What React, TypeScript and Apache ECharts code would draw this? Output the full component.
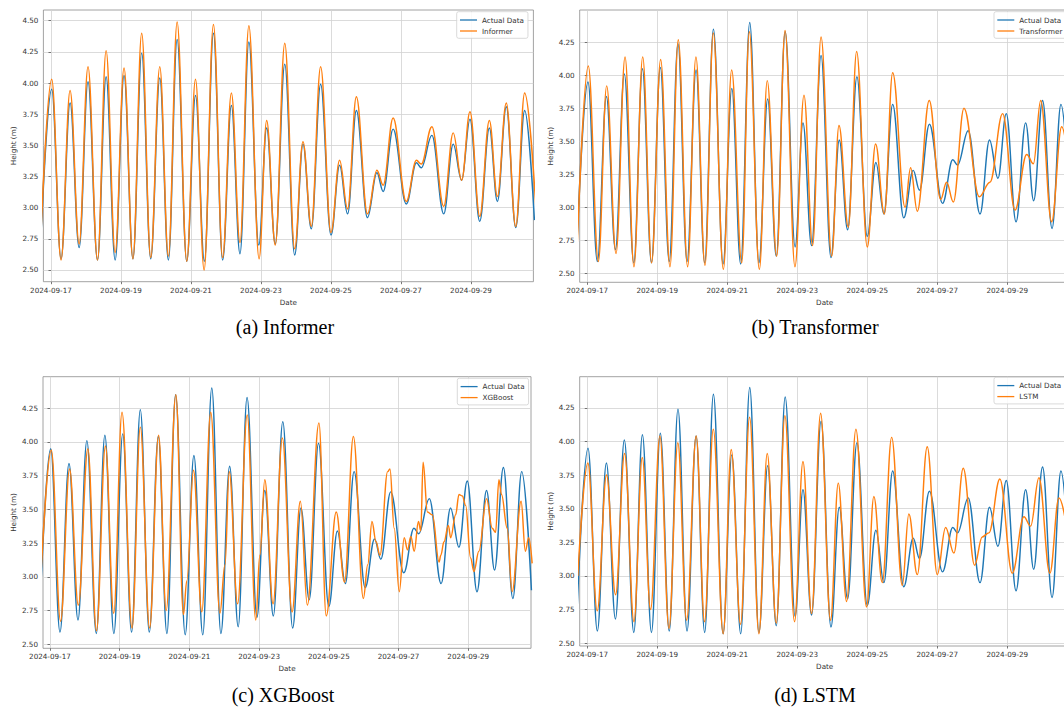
import React, { useEffect, useRef } from "react";
import * as echarts from "echarts";

// ---------- data (hours since 2024-09-17 00:00, height in m) ----------
const START_DATE = "2024-09-17";
const X_TICK_HOURS = [0, 48, 96, 144, 192, 240, 288];
const Y_TICKS_A = [2.5, 2.75, 3.0, 3.25, 3.5, 3.75, 4.0, 4.25, 4.5];
const Y_TICKS_BCD = [2.5, 2.75, 3.0, 3.25, 3.5, 3.75, 4.0, 4.25];
const MODEL_NAMES = ["Informer", "Transformer", "XGBoost", "LSTM"];
const CAPTIONS = ["(a) Informer", "(b) Transformer", "(c) XGBoost", "(d) LSTM"];

const ACTUAL: [number, number][] = [
  [-7.5, 2.62], [0.5, 3.95], [6.9, 2.59], [13.1, 3.84], [19.3, 2.68], [25.4, 4.01],
  [31.9, 2.58], [37.8, 4.05], [44.0, 2.58], [50.1, 4.06], [56.2, 2.59], [62.2, 4.24],
  [68.4, 2.59], [74.6, 4.04], [80.5, 2.58], [86.5, 4.35], [93.1, 2.57], [99.1, 3.9],
  [105.2, 2.57], [111.4, 4.4], [117.7, 2.58], [123.7, 3.82], [129.6, 2.63], [135.7, 4.33],
  [142.5, 2.7], [147.9, 3.64], [153.8, 2.71], [160.3, 4.15], [167.1, 2.62], [172.8, 3.51],
  [178.5, 2.83], [184.9, 3.99], [192.0, 2.78], [197.9, 3.34], [203.4, 2.95], [209.4, 3.78],
  [217.0, 2.92], [223.5, 3.28], [227.8, 3.13], [234.6, 3.63], [243.6, 3.03], [250.6, 3.36],
  [253.9, 3.32], [261.2, 3.58], [269.3, 2.95], [275.8, 3.51], [281.6, 3.22], [287.3, 3.71],
  [294.0, 2.89], [300.6, 3.64], [306.1, 3.05], [312.2, 3.81], [318.7, 2.84], [324.8, 3.78],
  [331.5, 2.9],
];

const INFORMER: [number, number][] = [
  [-7.5, 2.62], [0.5, 4.03], [6.9, 2.58], [13.1, 3.94], [19.3, 2.71], [25.4, 4.13],
  [31.9, 2.58], [37.8, 4.26], [44.0, 2.64], [50.1, 4.12], [56.2, 2.59], [62.2, 4.4],
  [68.4, 2.6], [74.6, 4.13], [80.5, 2.61], [86.5, 4.49], [93.1, 2.57], [99.1, 4.03],
  [105.0, 2.5], [111.4, 4.47], [117.7, 2.6], [123.7, 3.92], [129.6, 2.72], [135.7, 4.46],
  [142.7, 2.59], [147.9, 3.7], [153.8, 2.7], [160.3, 4.32], [167.1, 2.67], [172.8, 3.53],
  [178.5, 2.85], [184.9, 4.13], [192.0, 2.8], [197.9, 3.38], [203.4, 2.99], [209.4, 3.89],
  [217.0, 2.95], [223.5, 3.3], [227.8, 3.18], [234.6, 3.72], [243.6, 3.05], [250.6, 3.38],
  [253.9, 3.35], [261.2, 3.65], [269.3, 3.01], [275.8, 3.6], [281.6, 3.22], [287.3, 3.77],
  [294.0, 2.93], [300.6, 3.7], [306.1, 3.09], [312.2, 3.84], [318.7, 2.85], [324.8, 3.92],
  [332.5, 3.0],
];

const TRANSFORMER: [number, number][] = [
  [-7.3, 2.6], [0.7, 4.07], [7.6, 2.59], [13.3, 3.92], [19.7, 2.65], [25.9, 4.14],
  [32.0, 2.55], [38.0, 4.14], [44.1, 2.58], [50.3, 4.12], [56.7, 2.55], [62.4, 4.27],
  [68.8, 2.55], [74.5, 4.14], [80.7, 2.56], [86.4, 4.32], [93.3, 2.53], [99.0, 4.04],
  [105.9, 2.58], [111.1, 4.33], [118.0, 2.53], [123.4, 3.96], [129.9, 2.63], [135.6, 4.34],
  [142.4, 2.55], [148.6, 3.85], [154.5, 2.71], [160.3, 4.29], [167.6, 2.63], [172.6, 3.62],
  [179.0, 2.85], [184.7, 4.18], [192.0, 2.7], [197.7, 3.48], [203.7, 2.95], [209.4, 4.02],
  [217.9, 3.0], [221.7, 3.3], [226.3, 2.97], [234.5, 3.81], [242.3, 3.06], [246.4, 3.19],
  [251.0, 3.04], [258.3, 3.75], [268.8, 3.08], [276.1, 3.19], [284.8, 3.71], [293.3, 2.98],
  [301.3, 3.4], [305.9, 3.33], [310.9, 3.81], [318.4, 2.89], [325.3, 3.61], [331.5, 3.2],
];

const XGBOOST: [number, number][] = [
  [-6.5, 2.95], [0.9, 3.94], [7.3, 2.67], [13.5, 3.8], [19.5, 2.79], [26.1, 3.95],
  [32.0, 2.6], [38.2, 3.97], [43.9, 2.73], [49.6, 4.22], [56.5, 2.62], [62.2, 4.11],
  [68.6, 2.62], [74.8, 4.05], [80.0, 2.75], [86.7, 4.35], [91.9, 2.72], [94.2, 2.97],
  [98.8, 3.79], [104.5, 2.74], [110.7, 4.22], [117.0, 2.73], [120.5, 3.09], [123.4, 3.78],
  [129.2, 2.8], [135.8, 4.2], [141.7, 2.68], [144.5, 3.16], [147.9, 3.72], [153.6, 2.8],
  [160.0, 4.03], [166.7, 2.74], [172.4, 3.56], [177.2, 2.79], [185.2, 4.14], [190.2, 2.71],
  [197.1, 3.48], [202.8, 2.96], [208.9, 4.04], [215.8, 2.84], [218.8, 3.09], [221.7, 3.41],
  [224.5, 3.26], [227.2, 3.16], [232.5, 3.78], [234.1, 3.8], [237.0, 3.36], [240.5, 2.89],
  [243.9, 3.29], [246.2, 3.2], [248.5, 3.3], [250.8, 3.19], [253.7, 3.41], [255.3, 3.34],
  [256.9, 3.85], [259.9, 3.48], [263.3, 3.46], [267.9, 3.11], [269.1, 3.16], [271.3, 3.26],
  [274.3, 3.38], [275.9, 3.29], [279.3, 3.46], [281.6, 3.61], [283.9, 3.6], [286.2, 3.53],
  [289.6, 3.14], [291.9, 3.04], [295.3, 3.19], [300.6, 3.58], [304.5, 3.36], [306.8, 3.33],
  [309.1, 3.72], [310.9, 3.61], [314.8, 3.36], [318.2, 2.89], [324.4, 3.56], [327.3, 3.19],
  [329.6, 3.29], [332.0, 3.1],
];

const LSTM: [number, number][] = [
  [-6.5, 3.0], [0.4, 3.84], [6.8, 2.74], [13.2, 3.75], [19.4, 2.86], [25.6, 3.91],
  [32.0, 2.66], [37.7, 3.88], [43.4, 2.75], [49.8, 4.04], [56.0, 2.61], [62.1, 3.99],
  [68.1, 2.67], [74.7, 4.04], [80.4, 2.66], [86.4, 4.09], [93.2, 2.57], [98.7, 3.94],
  [105.1, 2.64], [111.3, 4.18], [117.7, 2.57], [123.4, 3.91], [129.6, 2.65], [135.5, 4.19],
  [142.1, 2.66], [147.9, 3.85], [153.8, 2.72], [160.0, 4.21], [166.8, 2.67], [172.1, 3.69],
  [177.8, 2.81], [184.2, 4.09], [191.5, 2.77], [196.5, 3.59], [202.3, 2.95], [208.7, 4.03],
  [216.0, 2.93], [220.5, 3.46], [226.3, 3.01], [233.1, 3.96], [240.0, 3.01], [245.7, 3.36],
  [251.4, 3.17], [257.8, 3.8], [265.6, 3.08], [270.8, 3.29], [275.4, 3.32], [282.9, 3.72],
  [291.4, 3.02], [299.4, 3.44], [304.0, 3.37], [309.7, 3.73], [317.2, 3.02], [323.4, 3.58],
  [331.0, 3.2],
];

const PREDICTIONS = [INFORMER, TRANSFORMER, XGBOOST, LSTM];
const Y_TICKS = [Y_TICKS_A, Y_TICKS_BCD, Y_TICKS_BCD, Y_TICKS_BCD];
const Y_RANGES: [number, number][] = [
  [2.406, 4.586],
  [2.432, 4.495],
  [2.47, 4.484],
  [2.479, 4.481],
];
const X_RANGES: [number, number][] = [
  [-5.2, 330.8],
  [-5.2, 330.8],
  [-4.8, 331.2],
  [-5.2, 330.8],
];

// ---------- layout ----------
const GRIDS = [
  { left: 43.4, top: 10, width: 490, height: 271.7 },
  { left: 579.7, top: 10, width: 490, height: 272.3 },
  { left: 43.0, top: 376.7, width: 488, height: 271.6 },
  { left: 579.7, top: 376.7, width: 490, height: 269.3 },
];
const LEGEND_POS = [
  { left: 456.7, top: 11.7 },
  { left: 994, top: 11.7 },
  { left: 457.3, top: 378.3 },
  { left: 994, top: 377.3 },
];
const CAPTION_POS = [
  { x: 285, y: 327 },
  { x: 815, y: 327 },
  { x: 283, y: 695 },
  { x: 815, y: 695 },
];

const BLUE = "#1f77b4";
const ORANGE = "#ff7f0e";
const FONT = "DejaVu Sans";
const FS = 7.2;

const BASE_MS = Date.parse(START_DATE + "T00:00:00Z");
const fmtDate = (h: number) =>
  new Date(BASE_MS + h * 3600000).toISOString().slice(0, 10);

function buildOption(): any {
  const grid: any[] = [];
  const xAxis: any[] = [];
  const yAxis: any[] = [];
  const series: any[] = [];
  const legend: any[] = [];
  const graphic: any[] = [];

  for (let i = 0; i < 4; i++) {
    const g = GRIDS[i];
    grid.push({
      left: g.left,
      top: g.top,
      width: g.width,
      height: g.height,
      show: true,
      borderColor: "#8a8a8a",
      borderWidth: 0.8,
      backgroundColor: "transparent",
      containLabel: false,
      outerBoundsMode: "none",
    });
    xAxis.push({
      type: "value",
      gridIndex: i,
      min: X_RANGES[i][0],
      max: X_RANGES[i][1],
      axisLine: { show: false },
      axisTick: {
        show: true,
        customValues: X_TICK_HOURS,
        length: 2.5,
        lineStyle: { color: "#555", width: 0.8 },
      },
      axisLabel: {
        customValues: X_TICK_HOURS,
        formatter: (v: number) => fmtDate(v),
        fontSize: FS,
        fontFamily: FONT,
        color: "#333",
        margin: 5,
      },
      splitLine: { show: true, lineStyle: { color: "#d2d2d2", width: 0.8 } },
      name: "Date",
      nameLocation: "middle",
      nameGap: 17,
      nameTextStyle: { fontSize: FS, fontFamily: FONT, color: "#333" },
    });
    yAxis.push({
      type: "value",
      gridIndex: i,
      min: Y_RANGES[i][0],
      max: Y_RANGES[i][1],
      axisLine: { show: false },
      axisTick: {
        show: true,
        customValues: Y_TICKS[i],
        length: 2.5,
        lineStyle: { color: "#555", width: 0.8 },
      },
      axisLabel: {
        customValues: Y_TICKS[i],
        formatter: (v: number) => v.toFixed(2),
        fontSize: FS,
        fontFamily: FONT,
        color: "#333",
        margin: 5,
      },
      splitLine: { show: true, lineStyle: { color: "#d2d2d2", width: 0.8 } },
      name: "Height (m)",
      nameLocation: "middle",
      nameRotate: 90,
      nameGap: 26,
      nameTextStyle: { fontSize: FS, fontFamily: FONT, color: "#333" },
    });
    series.push({
      name: "Actual Data",
      type: "line",
      xAxisIndex: i,
      yAxisIndex: i,
      data: ACTUAL,
      symbol: "none",
      smooth: 0.38,
      smoothMonotone: "x",
      clip: true,
      color: BLUE,
      lineStyle: { color: BLUE, width: 1.45 },
    });
    series.push({
      name: MODEL_NAMES[i],
      type: "line",
      xAxisIndex: i,
      yAxisIndex: i,
      data: PREDICTIONS[i],
      symbol: "none",
      smooth: 0.38,
      smoothMonotone: "x",
      clip: true,
      color: ORANGE,
      lineStyle: { color: ORANGE, width: 1.45 },
    });
    legend.push({
      orient: "vertical",
      left: LEGEND_POS[i].left,
      top: LEGEND_POS[i].top,
      data: ["Actual Data", MODEL_NAMES[i]],
      icon: "rect",
      itemWidth: 17,
      itemHeight: 1.3,
      itemGap: 3,
      padding: [4.3, 4, 3.3, 3.3],
      backgroundColor: "rgba(255,255,255,0.85)",
      borderColor: "#d0d0d0",
      borderWidth: 0.8,
      borderRadius: 2,
      selectedMode: false,
      textStyle: { fontSize: FS, fontFamily: FONT, color: "#333", lineHeight: 8 },
    });
    graphic.push({
      type: "text",
      x: CAPTION_POS[i].x,
      y: CAPTION_POS[i].y,
      style: {
        text: CAPTIONS[i],
        fontFamily: "Liberation Serif",
        fontSize: 20,
        fill: "#000",
        textAlign: "center",
        textVerticalAlign: "middle",
      },
    });
  }

  return {
    animation: false,
    backgroundColor: "#fff",
    grid,
    xAxis,
    yAxis,
    series,
    legend,
    graphic,
  };
}

export default function App() {
  const ref = useRef<HTMLDivElement>(null);
  useEffect(() => {
    if (!ref.current) return;
    const chart = echarts.init(ref.current, undefined, { renderer: "svg" });
    chart.setOption(buildOption());
    return () => chart.dispose();
  }, []);
  return (
    <div
      ref={ref}
      style={{
        position: "fixed",
        left: 0,
        top: 0,
        width: 1064,
        height: 710,
        background: "#fff",
        overflow: "hidden",
      }}
    />
  );
}
